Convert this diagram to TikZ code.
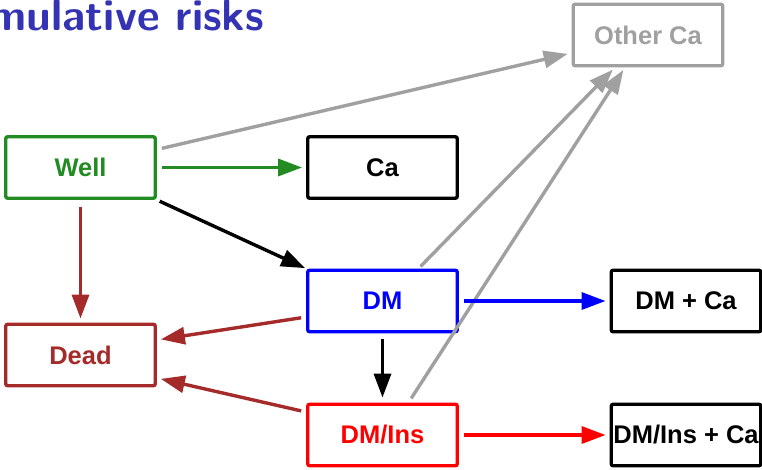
\documentclass[tikz,border=0pt]{standalone}
\usepackage{fontspec}
\newfontfamily\boxfont{Liberation Sans}
\usetikzlibrary{arrows.meta}
\definecolor{titleblue}{RGB}{51,51,179}
\definecolor{wellgreen}{RGB}{34,139,34}
\definecolor{deadbrown}{RGB}{165,42,42}
\definecolor{othergray}{RGB}{160,160,160}
\tikzset{
  statebox/.style={draw, line width=3.4pt, rounded corners=2pt, fill=white,
    minimum width=149.5pt, minimum height=61.5pt, inner sep=0pt,
    font=\boxfont\bfseries\fontsize{25.5}{30}\selectfont},
  trans/.style={line width=3.4pt, -{Triangle[length=24pt,width=17pt]},
    shorten <=5pt, shorten >=4pt},
}
\begin{document}
\begin{tikzpicture}[x=1pt,y=-1pt]
\useasboundingbox (0,0) rectangle (762,469);
% heading
\node[anchor=base east, inner sep=0pt, text=titleblue,
  font=\sffamily\bfseries\fontsize{44}{50}\selectfont] (title) at (264,30) {Cumulative risks};
% states
\node[statebox, draw=wellgreen, text=wellgreen] (well) at (80.5,167.5) {Well};
\node[statebox, draw=black] (ca) at (382.5,167.5) {Ca};
\node[statebox, draw=othergray, text=othergray] (other) at (648,35) {Other Ca};
\node[statebox, draw=blue, text=blue] (dm) at (382.5,301) {DM};
\node[statebox, draw=deadbrown, text=deadbrown] (dead) at (80.5,355) {Dead};
\node[statebox, draw=red, text=red] (dmins) at (382.5,435) {DM/Ins};
\node[statebox, draw=black] (dmca) at (686,301) {DM + Ca};
\node[statebox, draw=black] (dminsca) at (686,435) {DM/Ins + Ca};
% transitions to other cancers
\draw[trans, othergray] ([yshift=18pt]well.east) -- ([yshift=-18pt]other.west);
\draw[trans, othergray, shorten <=3pt, shorten >=3pt] ([xshift=36pt]dm.north) -- ([xshift=-33pt]other.south);
\draw[trans, othergray, shorten <=5pt, shorten >=3pt] ([xshift=26pt]dmins.north) -- ([xshift=-23pt]other.south);
% transitions from Well
\draw[trans, wellgreen] (well.east) -- (ca.west);
\draw[trans, black, shorten <=3pt, shorten >=1pt] (well.south east) -- (dm.north west);
\draw[trans, deadbrown, shorten <=7pt, shorten >=4pt] (well.south) -- (dead.north);
% transitions to death
\draw[trans, deadbrown] ([yshift=-16pt]dm.west) -- ([yshift=15pt]dead.east);
\draw[trans, deadbrown] ([yshift=23pt]dmins.west) -- ([yshift=-23pt]dead.east);
% diabetes progression
\draw[trans, black, shorten <=6pt, shorten >=5pt] (dm.south) -- (dmins.north);
\draw[trans, blue] (dm.east) -- (dmca.west);
\draw[trans, red] (dmins.east) -- (dminsca.west);
\end{tikzpicture}
\end{document}
